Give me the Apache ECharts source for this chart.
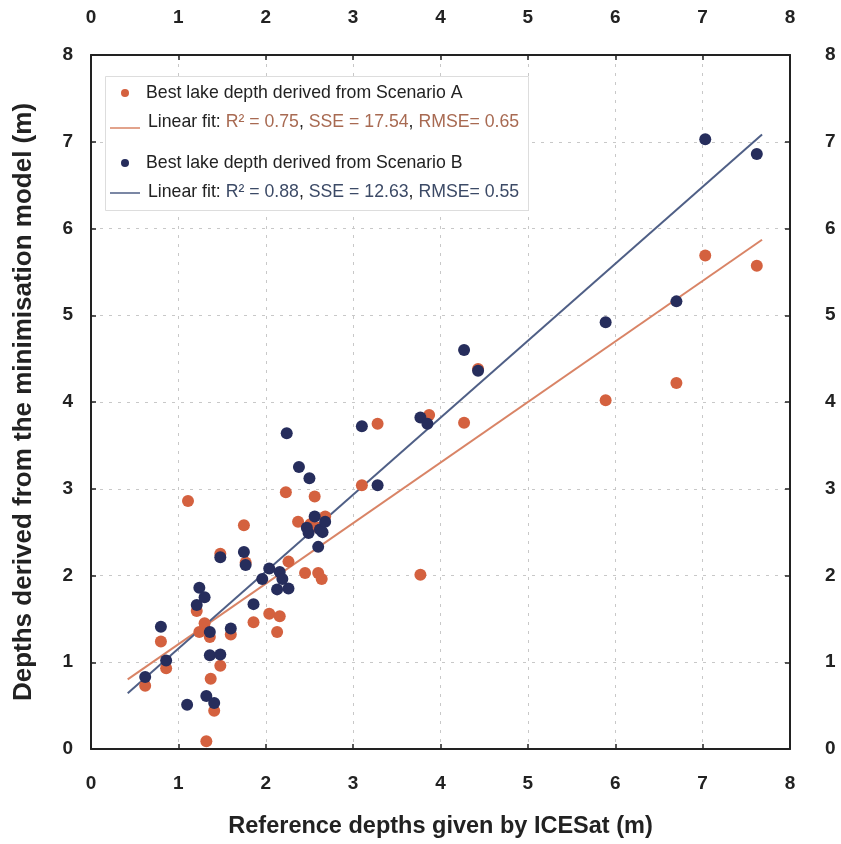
<!DOCTYPE html>
<html>
<head>
<meta charset="utf-8">
<script src="https://cdn.jsdelivr.net/npm/echarts@6/dist/echarts.min.js"></script>
<style>html,body{margin:0;padding:0;background:#fff}#c{width:841px;height:844px}</style>
</head>
<body>
<div id="c"></div>
<script>
// ---- data ----
const scenarioA = [
  [0.62,0.73],[0.80,1.24],[0.86,0.93],[1.11,2.86],[1.21,1.59],[1.24,1.35],[1.30,1.45],[1.32,0.09],
  [1.36,1.29],[1.37,0.81],[1.41,0.44],[1.48,0.96],[1.48,2.25],[1.60,1.32],[1.75,2.58],[1.77,2.15],
  [1.86,1.46],[2.04,1.56],[2.13,1.35],[2.16,1.53],[2.23,2.96],[2.26,2.16],[2.37,2.62],[2.45,2.03],
  [2.51,2.59],[2.56,2.91],[2.60,2.55],[2.60,2.03],[2.64,1.96],[2.68,2.68],[3.10,3.04],[3.28,3.75],
  [3.77,2.01],[3.87,3.85],[4.27,3.76],[4.43,4.38],[5.89,4.02],[6.70,4.22],[7.03,5.69],[7.62,5.57]
];
const scenarioB = [
  [0.62,0.83],[0.80,1.41],[0.86,1.02],[1.10,0.51],[1.21,1.66],[1.24,1.86],[1.30,1.75],[1.32,0.61],
  [1.36,1.35],[1.36,1.08],[1.41,0.53],[1.48,1.09],[1.48,2.21],[1.60,1.39],[1.75,2.27],[1.77,2.12],
  [1.86,1.67],[1.96,1.96],[2.04,2.08],[2.13,1.84],[2.16,2.04],[2.19,1.96],[2.24,3.64],[2.26,1.85],
  [2.38,3.25],[2.47,2.55],[2.49,2.49],[2.50,3.12],[2.56,2.68],[2.60,2.33],[2.62,2.53],[2.65,2.50],
  [2.68,2.62],[3.10,3.72],[3.28,3.04],[3.77,3.82],[3.85,3.75],[4.27,4.60],[4.43,4.36],[5.89,4.92],
  [6.70,5.16],[7.03,7.03],[7.62,6.86]
];
const fitA = {slope: 0.698, intercept: 0.51};
const fitB = {slope: 0.887, intercept: 0.27};
const fitRange = [0.42, 7.68];
const axisTicks = [0,1,2,3,4,5,6,7,8];
const xTitle = 'Reference depths given by ICESat (m)';
const yTitle = 'Depths derived from the minimisation model (m)';
const legendA = ['Best lake depth derived from Scenario A', 'R² = 0.75', 'SSE = 17.54', 'RMSE= 0.65'];
const legendB = ['Best lake depth derived from Scenario B', 'R² = 0.88', 'SSE = 12.63', 'RMSE= 0.55'];

const colA = '#d4613f', colB = '#262d5c';
const lineA = '#d98466', lineB = '#4f5f86';
const txtA = '#a86a52', txtB = '#3c4a66';

const fitLine = f => fitRange.map(x => [x, f.intercept + f.slope * x]);

const chart = echarts.init(document.getElementById('c'), null, {renderer:'canvas'});
const font = '"Liberation Sans", Arial, sans-serif';
const lblStyle = {color:'#222', fontSize:19, fontWeight:'bold', fontFamily:font};
const splitLine = {show:true, lineStyle:{color:'#c8c8c8', type:[3,6], width:1}};
const axisLine = {show:true, onZero:false, lineStyle:{color:'#222', width:2}};
const axisTick = {show:true, inside:true, length:5, lineStyle:{color:'#222', width:1.5}};
function ax(pos, extra){
  return Object.assign({type:'value', position:pos, min:0, max:8, interval:1,
    axisLine, axisTick, axisLabel:Object.assign({}, lblStyle, {formatter: v => String(axisTicks[v] ?? v)}),
    splitLine: {show:false}}, extra);
}
const option = {
  backgroundColor:'#fff',
  animation:false,
  grid:{left:91, right:51, top:55, bottom:92, containLabel:false},
  xAxis:[
    ax('bottom', {splitLine, axisLabel:Object.assign({}, lblStyle, {margin:25}),
      name:xTitle, nameLocation:'middle', nameGap:66,
      nameTextStyle:{color:'#222', fontSize:23.5, fontWeight:'bold', fontFamily:font}}),
    ax('top', {axisLabel:Object.assign({}, lblStyle, {margin:28})})
  ],
  yAxis:[
    ax('left', {splitLine, axisLabel:Object.assign({}, lblStyle, {margin:18}),
      name:yTitle, nameLocation:'middle', nameGap:54,
      nameTextStyle:{color:'#222', fontSize:26, fontWeight:'bold', fontFamily:font}}),
    ax('right', {axisLabel:Object.assign({}, lblStyle, {margin:35})})
  ],
  series:[
    {type:'line', data:fitLine(fitA), symbol:'none', lineStyle:{color:lineA, width:2}, z:3},
    {type:'line', data:fitLine(fitB), symbol:'none', lineStyle:{color:lineB, width:2}, z:3},
    {type:'scatter', data:scenarioA, symbolSize:12, itemStyle:{color:colA, opacity:1}, z:4},
    {type:'scatter', data:scenarioB, symbolSize:12, itemStyle:{color:colB, opacity:1}, z:5}
  ],
  graphic:[
    {type:'rect', left:105, top:76, shape:{width:423, height:134}, style:{fill:'#fff', stroke:'#ddd', lineWidth:1}, z:10},
    {type:'circle', shape:{cx:125, cy:93, r:4}, style:{fill:colA}, z:11},
    {type:'text', left:146, top:84, style:{text:legendA[0], fill:'#222', font:'17.7px '+font}, z:11},
    {type:'line', shape:{x1:110, y1:128, x2:140, y2:128}, style:{stroke:lineA, lineWidth:1.5}, z:11},
    {type:'text', left:148, top:113, z:11, style:{
      text:'{k|Linear fit: }{a|'+legendA[1]+'}{k|, }{a|'+legendA[2]+'}{k|, }{a|'+legendA[3]+'}',
      font:'17.7px '+font,
      rich:{k:{fill:'#222', font:'17.7px '+font}, a:{fill:txtA, font:'17.7px '+font}}}},
    {type:'circle', shape:{cx:125, cy:163, r:4}, style:{fill:colB}, z:11},
    {type:'text', left:146, top:154, style:{text:legendB[0], fill:'#222', font:'17.7px '+font}, z:11},
    {type:'line', shape:{x1:110, y1:193, x2:140, y2:193}, style:{stroke:lineB, lineWidth:1.5}, z:11},
    {type:'text', left:148, top:183, z:11, style:{
      text:'{k|Linear fit: }{a|'+legendB[1]+'}{k|, }{a|'+legendB[2]+'}{k|, }{a|'+legendB[3]+'}',
      font:'17.7px '+font,
      rich:{k:{fill:'#222', font:'17.7px '+font}, a:{fill:txtB, font:'17.7px '+font}}}}
  ]
};
chart.setOption(option);
</script>
</body>
</html>
